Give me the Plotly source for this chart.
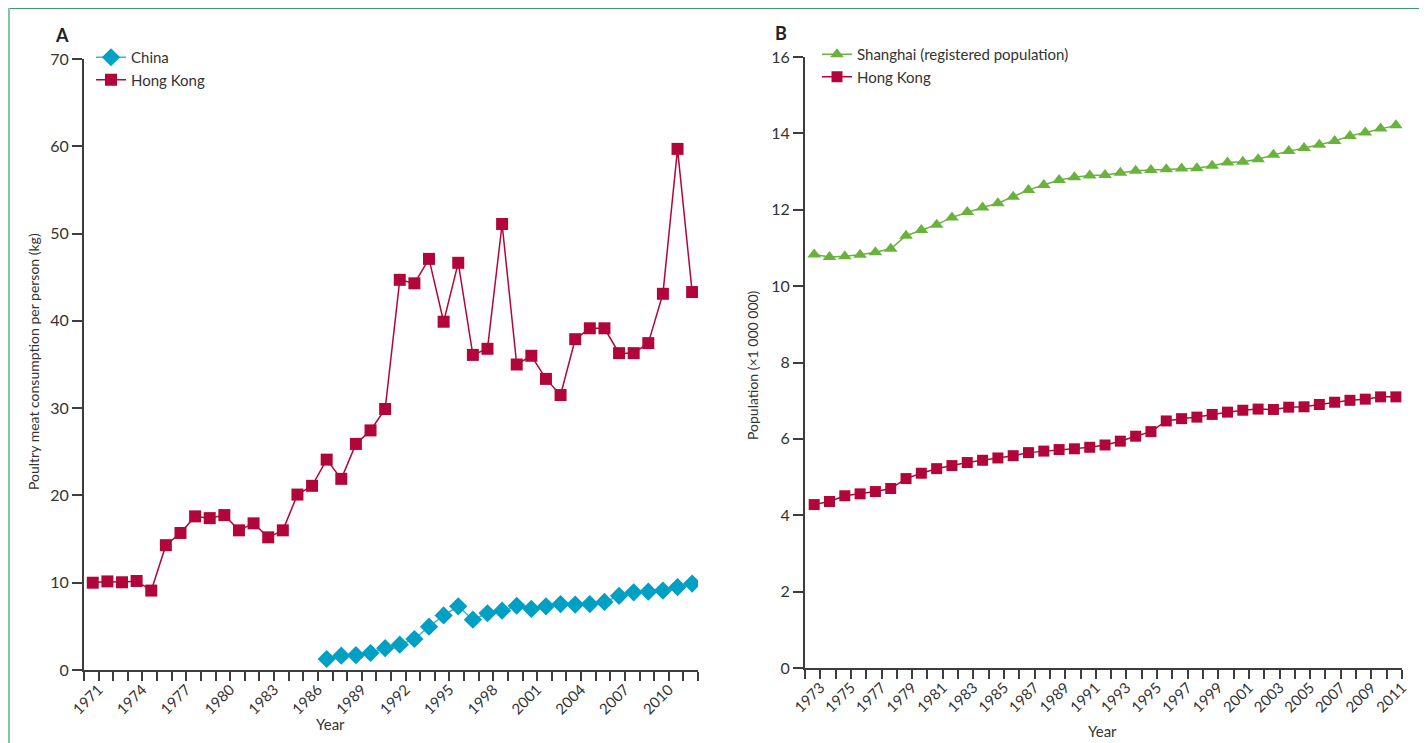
import plotly.graph_objects as go

# ---------------- Data ----------------
hk_years_a = list(range(1971, 2013))
hk_poultry = [10.0, 10.15, 10.05, 10.2, 9.1, 14.3, 15.7, 17.6, 17.4, 17.75,
              16.0, 16.8, 15.2, 16.0, 20.1, 21.1, 24.1, 21.9, 25.9, 27.45,
              29.9, 44.7, 44.3, 47.1, 39.9, 46.65, 36.1, 36.8, 51.1, 35.0,
              36.0, 33.35, 31.5, 37.9, 39.15, 39.15, 36.3, 36.3, 37.45, 43.1,
              59.7, 43.3]
china_years = list(range(1987, 2013))
china_poultry = [1.26, 1.64, 1.7, 1.95, 2.5, 2.9, 3.55, 4.96, 6.25, 7.3,
                 5.76, 6.5, 6.8, 7.36, 7.0, 7.3, 7.55, 7.5, 7.55, 7.8,
                 8.5, 8.9, 8.97, 9.1, 9.5, 9.9]

pop_years = list(range(1973, 2012))
shanghai_pop = [10.83, 10.76, 10.78, 10.82, 10.89, 10.98, 11.32, 11.47, 11.61, 11.80,
                11.94, 12.06, 12.17, 12.34, 12.52, 12.65, 12.78, 12.85, 12.90, 12.91,
                12.97, 13.02, 13.04, 13.06, 13.08, 13.09, 13.15, 13.24, 13.26, 13.32,
                13.44, 13.54, 13.62, 13.70, 13.80, 13.93, 14.02, 14.13, 14.21]
hk_pop = [4.28, 4.36, 4.51, 4.56, 4.62, 4.70, 4.96, 5.10, 5.22, 5.30,
          5.38, 5.44, 5.50, 5.56, 5.64, 5.68, 5.72, 5.74, 5.78, 5.84,
          5.94, 6.07, 6.19, 6.47, 6.53, 6.57, 6.64, 6.70, 6.75, 6.78,
          6.77, 6.83, 6.84, 6.90, 6.96, 7.01, 7.04, 7.10, 7.10]

# tick labels
a_tick_years = list(range(1970, 2013))
a_tick_labels = [str(y) if (y - 1971) % 3 == 0 and y >= 1971 else "" for y in a_tick_years]
b_tick_years = list(range(1972, 2012))
b_tick_labels = [str(y) if (y - 1973) % 2 == 0 and y >= 1973 else "" for y in b_tick_years]

# ---------------- Style ----------------
HK = "#b2063b"
CHINA = "#00a0c4"
CHINA_LINE = "#3cb6d4"
GREEN = "#69b33c"
AX = "#3d3d3d"
TXT = "#333333"
FONT = "Lato"

fig = go.Figure()

fig.add_trace(go.Scatter(x=china_years, y=china_poultry, name="China", mode="lines+markers",
                         line=dict(color=CHINA_LINE, width=1.5),
                         marker=dict(symbol="diamond", size=14, color=CHINA),
                         xaxis="x", yaxis="y", legend="legend"))
fig.add_trace(go.Scatter(x=hk_years_a, y=hk_poultry, name="Hong Kong", mode="lines+markers",
                         line=dict(color=HK, width=1.5),
                         marker=dict(symbol="square", size=12, color=HK),
                         xaxis="x", yaxis="y", legend="legend"))
fig.add_trace(go.Scatter(x=pop_years, y=shanghai_pop, name="Shanghai (registered population)",
                         mode="lines+markers",
                         line=dict(color=GREEN, width=1.5),
                         marker=dict(symbol="triangle-up", size=12, color=GREEN),
                         xaxis="x2", yaxis="y2", legend="legend2"))
fig.add_trace(go.Scatter(x=pop_years, y=hk_pop, name="Hong Kong", mode="lines+markers",
                         line=dict(color=HK, width=1.5),
                         marker=dict(symbol="square", size=11, color=HK),
                         xaxis="x2", yaxis="y2", legend="legend2"))

W, H = 1427, 743
OFF = 8  # page offset of the figure (body margin)


def px(xp):
    return (xp - OFF) / W


def py(yp):
    return 1 - (yp - OFF) / H


common_x = dict(showline=True, linecolor=AX, linewidth=2, ticks="outside", ticklen=9,
                tickwidth=1.5, tickcolor=AX, showgrid=False, zeroline=False, automargin=False,
                tickangle=-45, ticklabelstandoff=-6,
                tickfont=dict(family=FONT, size=15, color=TXT))
common_y = dict(showline=True, linecolor=AX, linewidth=2, ticks="outside", ticklen=10,
                tickwidth=1.5, tickcolor=AX, showgrid=False, zeroline=False, automargin=False,
                tickfont=dict(family=FONT, size=16, color=TXT))

fig.update_layout(
    width=W, height=H,
    paper_bgcolor="white", plot_bgcolor="white",
    margin=dict(l=0, r=0, t=0, b=0),
    font=dict(family=FONT, color=TXT),
    xaxis=dict(domain=[px(84), px(698)], anchor="y", range=[1970.4, 2012.4],
               tickmode="array", tickvals=[y + 0.4 for y in a_tick_years],
               ticktext=a_tick_labels, **common_x),
    yaxis=dict(domain=[py(670), py(59)], anchor="x", range=[0, 70],
               tickmode="array", tickvals=[0, 10, 20, 30, 40, 50, 60, 70],
               **common_y),
    xaxis2=dict(domain=[px(805), px(1402)], anchor="y2", range=[1972.4, 2011.4],
                tickmode="array", tickvals=[y + 0.4 for y in b_tick_years],
                ticktext=b_tick_labels, **common_x),
    yaxis2=dict(domain=[py(668), py(57)], anchor="x2", range=[0, 16],
                tickmode="array", tickvals=[0, 2, 4, 6, 8, 10, 12, 14, 16],
                **common_y),
    legend=dict(x=px(91), y=py(41), xanchor="left", yanchor="top",
                bgcolor="rgba(0,0,0,0)", font=dict(family=FONT, size=15, color=TXT),
                tracegroupgap=0, itemwidth=30),
    legend2=dict(x=px(817), y=py(38), xanchor="left", yanchor="top",
                 bgcolor="rgba(0,0,0,0)", font=dict(family=FONT, size=15, color=TXT),
                 tracegroupgap=0, itemwidth=30),
    showlegend=True,
)


def label(text, x, y, size=15, angle=0, color=TXT):
    fig.add_annotation(text=text, x=px(x), y=py(y), xref="paper", yref="paper",
                       xanchor="center", yanchor="middle", showarrow=False, textangle=angle,
                       font=dict(family=FONT, size=size, color=color))


# axis titles
label("Year", 330, 724)
label("Year", 1102, 731)
label("Poultry meat consumption per person (kg)", 33, 362, size=14, angle=-90)
label("Population (×1 000 000)", 753, 365, size=14, angle=-90)

# panel letters
label("<b>A</b>", 62, 35, size=18, color="#222")
label("<b>B</b>", 781, 33, size=18, color="#222")

# frame
fig.add_shape(type="line", xref="paper", yref="paper", x0=px(8.5), x1=px(1421), y0=py(8.5), y1=py(8.5),
              line=dict(color="#3b9a6c", width=1))
fig.add_shape(type="line", xref="paper", yref="paper", x0=px(9), x1=px(9), y0=py(8), y1=py(760),
              line=dict(color="#86c3a6", width=2))
fig.add_shape(type="line", xref="paper", yref="paper", x0=px(1421), x1=px(1421), y0=py(8), y1=py(760),
              line=dict(color="#86c3a6", width=2))

fig.write_html("out.html")
